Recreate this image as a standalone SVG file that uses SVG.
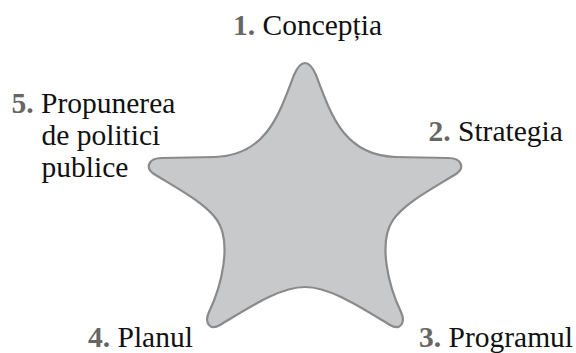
<svg xmlns="http://www.w3.org/2000/svg" width="576" height="353" viewBox="0 0 576 353">
<style>
.t{font-family:"Liberation Serif","Times New Roman",serif;font-size:29.5px;fill:#111}
.n{font-weight:bold;fill:#666}
.star{fill:#c8c9cb;stroke:#8a8a8a;stroke-width:2.2;stroke-linejoin:round}
</style>
<rect width="576" height="353" fill="#fff"/>
<g id="star">
<path class="star" d="M305,63 C300,63 297,68 294,75 C278,118 265,155 215,157 L162,158 C148,158 145,168 154,174 C180,190 205,203 217,220 C232,242 222,285 209,312 C204,323 210,331 220,325 C250,307 280,287 305,287 C330,287 360,307 390,325 C400,331 406,323 401,312 C388,285 378,242 393,220 C405,203 430,190 456,174 C465,168 462,158 448,158 L395,157 C345,155 332,118 316,75 C313,68 310,63 305,63 Z"/>
</g>
<g id="label1"><text class="t" x="233" y="34.5"><tspan class="n">1.</tspan> Concepția</text></g>
<g id="label2"><text class="t" x="428.5" y="141"><tspan class="n">2.</tspan> Strategia</text></g>
<g id="label3"><text class="t" x="419" y="347"><tspan class="n">3.</tspan> Programul</text></g>
<g id="label4"><text class="t" x="88" y="346.5"><tspan class="n">4.</tspan> Planul</text></g>
<g id="label5"><text class="t" x="11.5" y="113"><tspan class="n">5.</tspan> Propunerea</text>
<text class="t" x="41.5" y="145">de politici</text>
<text class="t" x="41.5" y="177">publice</text></g>
</svg>
